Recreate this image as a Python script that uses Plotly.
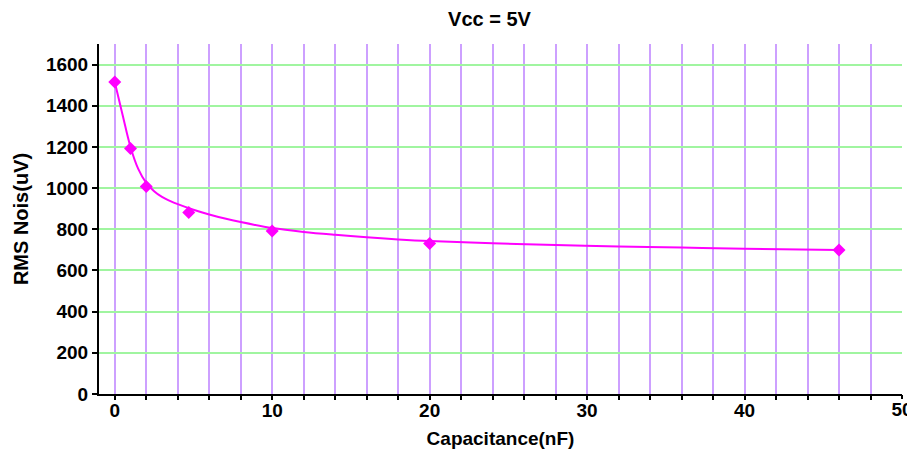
import plotly.graph_objects as go

# Measured points
cap_nf = [0, 1, 2, 4.7, 10, 20, 46]
noise_uv = [1515, 1192, 1008, 881, 792, 731, 699]

# Fitted curve
fit_x = [0, 0.5, 1, 1.5, 2, 2.5, 3, 3.5, 4, 5, 6, 7, 8, 10, 12, 14, 16, 18, 20, 24, 28, 32, 36, 40, 46]
fit_y = [1515, 1355, 1200, 1092, 1025, 985, 957, 938, 922, 895, 872, 852, 835, 806, 787, 773, 761, 751, 743, 732, 724, 717, 711, 706, 699]

grid_x = list(range(0, 49, 2))
grid_text = [str(v) if v % 10 == 0 else "" for v in grid_x]
end_tick = [50]
end_text = ["50"]
y_tickvals = [0, 200, 400, 600, 800, 1000, 1200, 1400, 1600]

font_family = "Liberation Sans, Arial, sans-serif"
magenta = "#FF00FF"
tick_font = dict(size=19, family=font_family, color="black", weight="bold")

# page body adds an 8px offset
W, H = 907, 445

fig = go.Figure()
fig.add_trace(go.Scatter(
    x=fit_x, y=fit_y, mode="lines", line=dict(color=magenta, width=2, shape="spline", smoothing=1.0),
    hoverinfo="skip", showlegend=False))
fig.add_trace(go.Scatter(
    x=cap_nf, y=noise_uv, mode="markers", xaxis="x2",
    marker=dict(symbol="diamond", size=10, color=magenta), showlegend=False))

fig.update_layout(
    width=W, height=H,
    margin=dict(l=91, r=13, t=36, b=59),
    paper_bgcolor="white", plot_bgcolor="white",
    font=dict(family=font_family, size=18, color="black"),
    title=dict(text="<b>Vcc = 5V</b>", x=481.5 / W, xanchor="center", y=1 - 10.5 / H, yanchor="middle",
               font=dict(size=20, family=font_family, color="black")),
    showlegend=False,
    xaxis=dict(
        range=[-1, 50], tickmode="array", tickvals=grid_x, ticktext=grid_text,
        showgrid=True, gridcolor="rgb(205,160,255)", gridwidth=2,
        showline=True, linecolor="black", linewidth=2,
        ticks="outside", ticklen=4, tickwidth=1.5, tickcolor="black",
        tickfont=tick_font, zeroline=False, automargin=False, ticklabelstandoff=-6,
        title=dict(text="<b>Capacitance(nF)</b>", font=dict(size=19, family=font_family, color="black"), standoff=12),
    ),
    xaxis2=dict(
        matches="x", overlaying="x", side="bottom", anchor="y",
        tickmode="array", tickvals=end_tick, ticktext=end_text,
        showgrid=False, showline=False, zeroline=False,
        ticks="outside", ticklen=4, tickwidth=1.5, tickcolor="black",
        tickfont=tick_font, automargin=False, ticklabelstandoff=-6,
    ),
    yaxis=dict(
        range=[0, 1700], tickmode="array", tickvals=y_tickvals,
        showgrid=True, gridcolor="rgb(160,245,160)", gridwidth=2,
        showline=True, linecolor="black", linewidth=2,
        ticks="outside", ticklen=5, tickwidth=1.5, tickcolor="black",
        tickfont=tick_font, zeroline=False, automargin=False,
        title=dict(text="<b>RMS Nois(uV)</b>", font=dict(size=20, family=font_family, color="black"), standoff=12),
    ),
)

fig.write_html("out.html")
